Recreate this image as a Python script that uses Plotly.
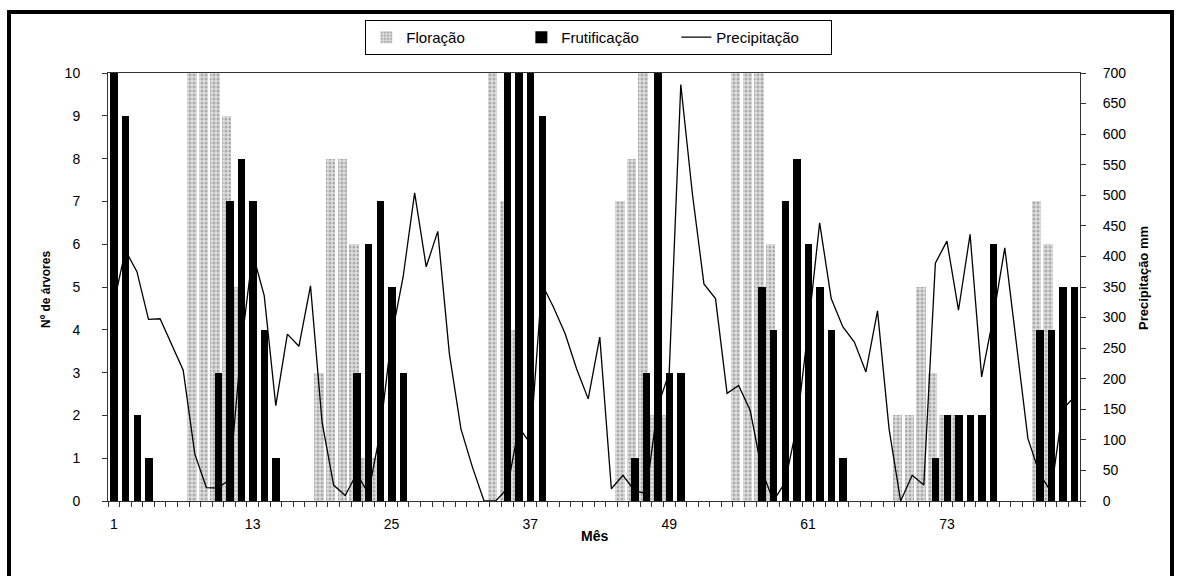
import plotly.graph_objects as go

# Meses 1..84
meses = list(range(1, 85))

floracao = [0, 0, 0, 0, 0, 0, 0, 10, 10, 10, 9, 5, 0, 0, 0, 0, 0, 0, 3, 8,
            8, 6, 1, 1, 0, 0, 0, 0, 0, 0, 0, 0, 0, 10, 7, 4, 0, 0, 0, 0,
            0, 0, 0, 0, 7, 8, 10, 2, 2, 0, 0, 0, 0, 0, 10, 10, 10, 6, 0, 0,
            0, 0, 0, 0, 0, 0, 0, 0, 2, 2, 5, 3, 2, 2, 0, 0, 0, 0, 0, 0,
            7, 6, 0, 0]

frutificacao = [10, 9, 2, 1, 0, 0, 0, 0, 0, 3, 7, 8, 7, 4, 1, 0, 0, 0, 0, 0,
                0, 3, 6, 7, 5, 3, 0, 0, 0, 0, 0, 0, 0, 0, 10, 10, 10, 9, 0, 0,
                0, 0, 0, 0, 0, 1, 3, 10, 3, 3, 0, 0, 0, 0, 0, 0, 5, 4, 7, 8,
                6, 5, 4, 1, 0, 0, 0, 0, 0, 0, 0, 1, 2, 2, 2, 2, 6, 0, 0, 0,
                4, 4, 5, 5]

precipitacao = [323, 410, 375, 297, 298, 255, 214, 77, 22, 21,
                35, 250, 405, 336, 156, 273, 253, 352, 129, 26,
                9, 45, 12, 110, 268, 366, 504, 383, 441, 241,
                118, 55, 0, 0, 20, 121, 94, 355, 317, 274,
                216, 167, 268, 20, 42, 17, 12, 154, 210, 681,
                503, 355, 331, 176, 189, 148, 50, 0, 30, 120,
                280, 455, 331, 285, 260, 211, 311, 118, 0, 42,
                26, 389, 425, 312, 436, 203, 300, 414, 257, 102,
                45, 15, 150, 170]

rotulos_x = [1, 13, 25, 37, 49, 61, 73]

FONTE = "Liberation Sans, Arial, sans-serif"
EIXO = "#333333"

fig = go.Figure()

fig.add_trace(go.Bar(
    x=meses, y=floracao, name="Floração",
    offset=-0.66, width=0.81,
    marker=dict(color="#d4d4d4", line=dict(width=0),
                pattern=dict(shape=".", fgcolor="#7a7a7a", bgcolor="#dedede",
                             size=4, solidity=0.45)),
))

fig.add_trace(go.Bar(
    x=meses, y=frutificacao, name="Frutificação",
    offset=-0.29, width=0.64,
    marker=dict(color="black", line=dict(width=0)),
))

fig.add_trace(go.Scatter(
    x=meses, y=precipitacao, name="Precipitação", yaxis="y2",
    mode="lines", line=dict(color="black", width=1.3),
))

fig.update_layout(
    width=1181, height=576,
    margin=dict(l=108, r=101, t=73, b=75),
    paper_bgcolor="white", plot_bgcolor="white",
    barmode="overlay",
    bargap=0,
    font=dict(family=FONTE, size=14, color="black"),
    showlegend=True,
    legend=dict(
        orientation="h", x=0.505, xanchor="center", y=1.124, yanchor="top",
        bordercolor="black", borderwidth=1, bgcolor="white",
        font=dict(family=FONTE, size=15, color="black"),
        itemwidth=30, tracegroupgap=0,
        entrywidth=110, entrywidthmode="pixels",
    ),
    xaxis=dict(
        range=[0.5, 84.5], tickmode="array", tickvals=rotulos_x,
        ticktext=[str(v) for v in rotulos_x],
        ticks="", showgrid=False, zeroline=False,
        showline=True, linecolor=EIXO, linewidth=1, mirror=True,
        tickfont=dict(family=FONTE, size=14),
        ticklabelstandoff=10,
        minor=dict(tick0=0.5, dtick=1, ticks="outside", ticklen=5,
                   tickcolor=EIXO, showgrid=False),
    ),
    yaxis=dict(
        range=[0, 10], dtick=1, ticks="outside", ticklen=5, tickcolor=EIXO,
        showgrid=False, zeroline=False, showline=True, linecolor=EIXO,
        linewidth=1, tickfont=dict(family=FONTE, size=14),
        ticklabelstandoff=19,
    ),
    yaxis2=dict(
        range=[0, 700], dtick=50, overlaying="y", side="right",
        ticks="outside", ticklen=5, tickcolor=EIXO,
        showgrid=False, zeroline=False, showline=True, linecolor=EIXO,
        linewidth=1, tickfont=dict(family=FONTE, size=14),
        ticklabelstandoff=14,
    ),
    annotations=[
        dict(text="<b>Nº de árvores</b>", xref="paper", yref="paper",
             x=(46 - 108) / 972, y=(501 - 290) / 428, textangle=-90,
             showarrow=False, xanchor="center", yanchor="middle",
             font=dict(family=FONTE, size=12)),
        dict(text="<b>Precipitação mm</b>", xref="paper", yref="paper",
             x=(1143 - 108) / 972, y=(501 - 278) / 428, textangle=-90,
             showarrow=False, xanchor="center", yanchor="middle",
             font=dict(family=FONTE, size=13)),
        dict(text="<b>Mês</b>", xref="paper", yref="paper",
             x=0.5, y=(501 - 536) / 428, showarrow=False,
             xanchor="center", yanchor="middle",
             font=dict(family=FONTE, size=14)),
    ],
    shapes=[
        # moldura do gráfico (a borda inferior fica fora da área visível)
        dict(type="rect", xref="paper", yref="paper",
             x0=(9 - 108) / 972, x1=(1172 - 108) / 972,
             y0=(501 - 590) / 428, y1=(501 - 12) / 428,
             line=dict(color="black", width=4), fillcolor="rgba(0,0,0,0)",
             layer="below"),
    ],
)

fig.write_html("out.html")
